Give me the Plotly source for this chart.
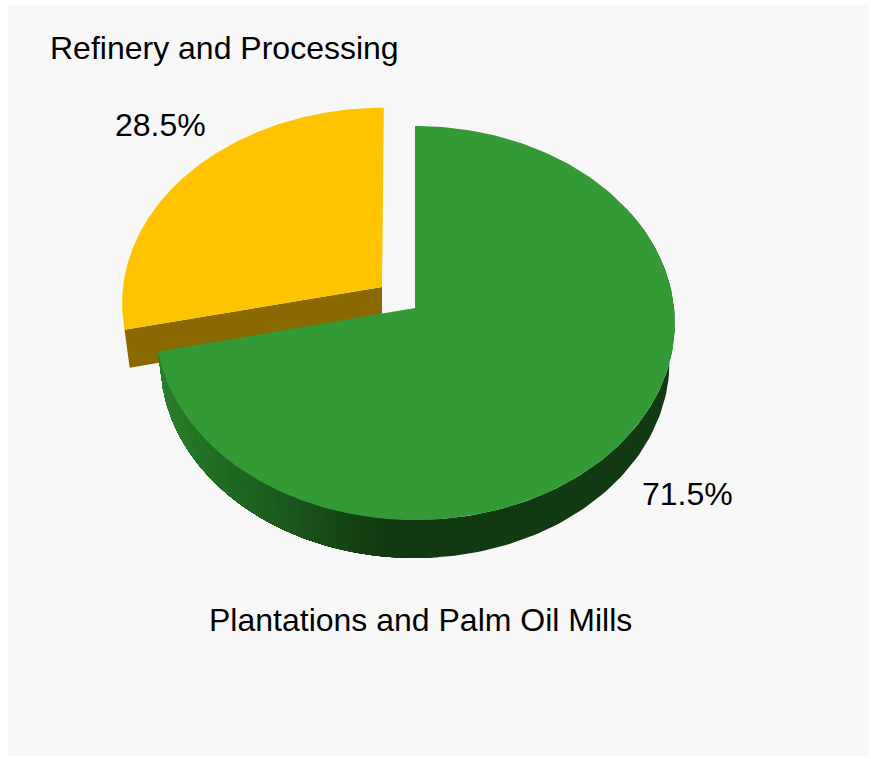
import numpy as np
import plotly.graph_objects as go

# --- data -------------------------------------------------------------
categories = ["Plantations and Palm Oil Mills", "Refinery and Processing"]
shares = [71.5, 28.5]
share_labels = ["71.5%", "28.5%"]

# --- style / geometry -------------------------------------------------
W, H = 871, 759
TOP_COLORS = ["#349a36", "#ffc300"]
CUT_COLOR = "#8a6a00"
WALL_STOPS_X = [158, 200, 270, 330, 390]
WALL_STOPS_RGB = [(46, 128, 46), (35, 115, 37), (29, 95, 30), (23, 74, 23), (18, 58, 18)]
R_X, R_Y, PERSP = 259.0, 195.9, 0.0761
DEPTH, DEPTH_SCALE = 38.0, 0.98
APEX = [(415.0, 308.0), (382.0, 287.0)]
Y_SCALE = [1.0, 0.985]
SHEAR = [0.0, 2.0]


def project(i, theta, lower=False):
    """Perspective projection of a rim point (theta clockwise from 12 o'clock)."""
    ax, ay = APEX[i]
    X, Z = np.sin(theta), np.cos(theta)
    d = 1 + PERSP * Z
    sx = R_X * X / d + SHEAR[i] * Z / d
    sy = -R_Y * Y_SCALE[i] * Z / d
    if lower:
        return ax + sx * DEPTH_SCALE, ay + sy + DEPTH
    return ax + sx, ay + sy


def wedge(i, t0, t1, n=240):
    t = np.linspace(t0, t1, n)
    x, y = project(i, t)
    return [APEX[i][0], *x, APEX[i][0]], [APEX[i][1], *y, APEX[i][1]]


def filled(x, y, color):
    return go.Scatter(x=list(x), y=list(y), mode="lines", fill="toself", fillcolor=color,
                      line=dict(color=color, width=0), hoverinfo="skip", showlegend=False)


def wall_color(x):
    c = [np.interp(x, WALL_STOPS_X, [s[k] for s in WALL_STOPS_RGB]) for k in range(3)]
    return "rgb(%d,%d,%d)" % tuple(round(v) for v in c)


def wall_band(t_start, t_end, color, n=160):
    t = np.linspace(t_start, t_end, n)
    ux, uy = project(0, t)
    lx, ly = project(0, t, lower=True)
    return filled([*ux, *lx[::-1], ux[0]], [*uy, *ly[::-1], uy[0]], color)


green_end = 2 * np.pi * shares[0] / sum(shares)
full = 2 * np.pi

fig = go.Figure()

# yellow slice: cut face, then top
ux, uy = project(1, green_end)
lx, ly = project(1, green_end, lower=True)
a_x, a_y = APEX[1]
fig.add_trace(filled([a_x, ux, lx, a_x, a_x], [a_y, uy, ly, a_y + DEPTH, a_y], CUT_COLOR))
x, y = wedge(1, green_end, full)
fig.add_trace(filled(x, y, TOP_COLORS[1]))

# green slice: outer wall painted as nested bands (no seams), then top
shade_start = np.radians(175)
fig.add_trace(wall_band(np.radians(60), green_end, wall_color(400)))
for t in np.linspace(shade_start, green_end, 60)[:-1]:
    bx, _ = project(0, t, lower=True)
    fig.add_trace(wall_band(t, green_end, wall_color(bx)))
x, y = wedge(0, 0, green_end)
fig.add_trace(filled(x, y, TOP_COLORS[0]))

font = dict(family="Liberation Sans, Arial, sans-serif", size=32, color="#000000")
texts = [
    (categories[1], 224.5, 48),
    (share_labels[1], 160.5, 125),
    (share_labels[0], 687.5, 494),
    (categories[0], 420, 620),
]
for s, tx, ty in texts:
    fig.add_annotation(x=tx, y=ty, text=s, showarrow=False, xanchor="center", yanchor="middle",
                       font=font, xref="x", yref="y")

fig.update_layout(
    width=W, height=H, margin=dict(l=0, r=0, t=0, b=0), autosize=False,
    paper_bgcolor="#ffffff", plot_bgcolor="#ffffff", showlegend=False,
    xaxis=dict(range=[0, W], visible=False, fixedrange=True),
    yaxis=dict(range=[H, 0], visible=False, fixedrange=True),
    shapes=[dict(type="rect", xref="x", yref="y", x0=8, x1=869, y0=5, y1=756,
                 fillcolor="#f8f8f8", line=dict(width=0), layer="below")],
)

fig.write_html("out.html", config={"displayModeBar": False},
               post_script="document.body.style.margin='0';document.documentElement.style.overflow='hidden';")
